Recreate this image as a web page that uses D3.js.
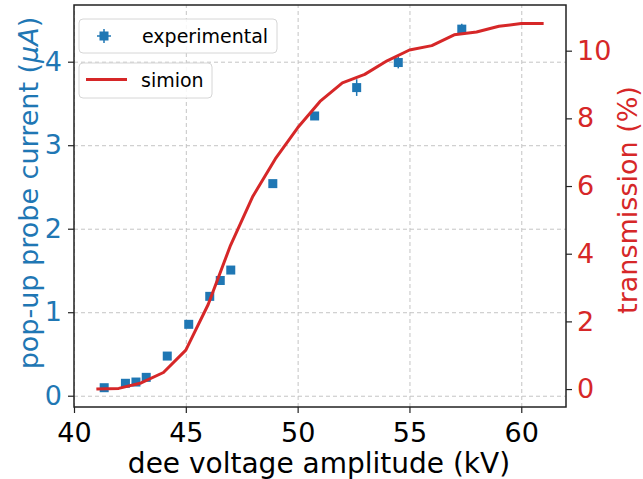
<!DOCTYPE html>
<html>
<head>
<meta charset="utf-8">
<style>
  body { margin: 0; background: #fff; }
  svg { font-family: "DejaVu Sans", sans-serif; }
  .grid line { stroke: #c4c4c4; stroke-width: 1; stroke-dasharray: 4,3; }
  .grid .domain { display: none; }
</style>
</head>
<body>
<svg width="643" height="479"></svg>
<script src="https://d3js.org/d3.v7.min.js"></script>
<script>
// experimental points
var voltage = [41.35, 42.3, 42.77, 43.23, 44.17, 45.13, 46.07, 46.54, 47.01, 48.89, 50.76, 52.64, 54.5, 57.34];
var current = [0.096, 0.149, 0.164, 0.22, 0.475, 0.855, 1.19, 1.38, 1.505, 2.54, 3.35, 3.69, 3.99, 4.39];
var currentErr = [0.02, 0.02, 0.02, 0.02, 0.03, 0.03, 0.03, 0.03, 0.03, 0.04, 0.04, 0.1, 0.07, 0.065];
var voltageErr = [0.1, 0.1, 0.1, 0.1, 0.1, 0.1, 0.1, 0.1, 0.1, 0.1, 0.1, 0.1, 0.1, 0.1];

// simion simulation
var simVoltage = [41, 42, 43, 44, 45, 46, 47, 48, 49, 50, 51, 52, 53, 54, 55, 56, 57, 58, 59, 60, 61];
var simTransmission = [0.0, 0.02, 0.18, 0.49, 1.15, 2.5, 4.25, 5.7, 6.8, 7.72, 8.5, 9.05, 9.3, 9.7, 10.02, 10.15, 10.47, 10.55, 10.72, 10.8, 10.8];

var xTicks = [40, 45, 50, 55, 60];
var leftTicks = [0, 1, 2, 3, 4];
var rightTicks = [0, 2, 4, 6, 8, 10];

var blue = "#1f77b4", red = "#d62728";

var svg = d3.select("svg"),
    margin = {top: 5, right: 77, bottom: 72, left: 74},
    width = +svg.attr("width") - margin.left - margin.right,
    height = +svg.attr("height") - margin.top - margin.bottom,
    g = svg.append("g").attr("transform", "translate(" + margin.left + "," + margin.top + ")");

var x = d3.scaleLinear().domain([40, 62]).range([0, width]);
var y = d3.scaleLinear().domain([-0.135, 4.679]).range([height, 0]);
var y2 = d3.scaleLinear().domain([-0.53, 11.35]).range([height, 0]);

// grid
g.append("g")
    .attr("class", "grid")
    .attr("transform", "translate(0," + height + ")")
    .call(d3.axisBottom(x).tickValues(xTicks).tickSize(-height).tickFormat(""));
g.append("g")
    .attr("class", "grid")
    .call(d3.axisLeft(y).tickValues(leftTicks).tickSize(-width).tickFormat(""));

// error bars
var pts = voltage.map(function(v, i) {
  return {x: v, y: current[i], ey: currentErr[i], ex: voltageErr[i]};
});

g.selectAll(".ebar")
  .data(pts)
  .enter().append("line")
    .attr("class", "ebar")
    .attr("x1", function(d) { return x(d.x); })
    .attr("x2", function(d) { return x(d.x); })
    .attr("y1", function(d) { return y(d.y - d.ey); })
    .attr("y2", function(d) { return y(d.y + d.ey); })
    .attr("stroke", blue)
    .attr("stroke-width", 1.5);

g.selectAll(".xbar")
  .data(pts)
  .enter().append("line")
    .attr("class", "xbar")
    .attr("x1", function(d) { return x(d.x - d.ex); })
    .attr("x2", function(d) { return x(d.x + d.ex); })
    .attr("y1", function(d) { return y(d.y); })
    .attr("y2", function(d) { return y(d.y); })
    .attr("stroke", blue)
    .attr("stroke-width", 1.5);

var ms = 9;
g.selectAll(".pt")
  .data(pts)
  .enter().append("rect")
    .attr("class", "pt")
    .attr("x", function(d) { return x(d.x) - ms / 2; })
    .attr("y", function(d) { return y(d.y) - ms / 2; })
    .attr("width", ms)
    .attr("height", ms)
    .attr("fill", blue);

// simion line (twin axis, drawn on top)
var sim = simVoltage.map(function(v, i) { return {x: v, y: simTransmission[i]}; });
var line = d3.line()
    .x(function(d) { return x(d.x); })
    .y(function(d) { return y2(d.y); });

g.append("path")
    .datum(sim)
    .attr("fill", "none")
    .attr("stroke", red)
    .attr("stroke-width", 3)
    .attr("stroke-linejoin", "round")
    .attr("d", line);

// axes
var fs = 27;
var ax = g.append("g")
    .attr("transform", "translate(0," + height + ")")
    .call(d3.axisBottom(x).tickValues(xTicks).tickFormat(d3.format("d")).tickSize(6).tickPadding(10).tickSizeOuter(0));
ax.selectAll("text").attr("font-size", fs).attr("fill", "#000").attr("font-family", "DejaVu Sans");

var ayl = g.append("g")
    .call(d3.axisLeft(y).tickValues(leftTicks).tickFormat(d3.format("d")).tickSize(6).tickPadding(6).tickSizeOuter(0));
ayl.selectAll("text").attr("font-size", fs).attr("fill", blue).attr("font-family", "DejaVu Sans");

var ayr = g.append("g")
    .attr("transform", "translate(" + width + ",0)")
    .call(d3.axisRight(y2).tickValues(rightTicks).tickFormat(d3.format("d")).tickSize(6).tickPadding(5).tickSizeOuter(0));
ayr.selectAll("text").attr("font-size", fs).attr("fill", red).attr("font-family", "DejaVu Sans");

[ax, ayl, ayr].forEach(function(a) {
  a.select(".domain").remove();
  a.selectAll("line").attr("stroke", "#222").attr("stroke-width", 1.2);
});

// frame
g.append("rect")
    .attr("width", width)
    .attr("height", height)
    .attr("fill", "none")
    .attr("stroke", "#222")
    .attr("stroke-width", 1.5);

// axis labels
svg.append("text")
    .attr("x", margin.left + width / 2 - 1)
    .attr("y", 473)
    .attr("text-anchor", "middle")
    .attr("font-size", 28)
    .attr("fill", "#000")
    .text("dee voltage amplitude (kV)");

var yl = svg.append("text")
    .attr("transform", "translate(38,193) rotate(-90)")
    .attr("text-anchor", "middle")
    .attr("font-size", fs)
    .attr("fill", blue);
yl.append("tspan").text("pop-up probe current (");
yl.append("tspan").attr("font-style", "italic").text("μA");
yl.append("tspan").text(")");

svg.append("text")
    .attr("transform", "translate(637,200) rotate(-90)")
    .attr("text-anchor", "middle")
    .attr("font-size", fs)
    .attr("fill", red)
    .text("transmission (%)");

// legends (two separate boxes)
var lf = 19;
var leg1 = svg.append("g");
leg1.append("rect")
    .attr("x", 79).attr("y", 19).attr("width", 198).attr("height", 34).attr("rx", 4)
    .attr("fill", "#fff").attr("fill-opacity", 0.85)
    .attr("stroke", "#d6d6d6").attr("stroke-width", 1);
leg1.append("line")
    .attr("x1", 104).attr("x2", 104).attr("y1", 29).attr("y2", 43)
    .attr("stroke", blue).attr("stroke-width", 1.5);
leg1.append("line")
    .attr("x1", 97).attr("x2", 111).attr("y1", 36).attr("y2", 36)
    .attr("stroke", blue).attr("stroke-width", 1.5);
leg1.append("rect")
    .attr("x", 104 - ms / 2).attr("y", 36 - ms / 2).attr("width", ms).attr("height", ms)
    .attr("fill", blue);
leg1.append("text")
    .attr("x", 142).attr("y", 42.5)
    .attr("font-size", lf).attr("fill", "#000")
    .text("experimental");

var leg2 = svg.append("g");
leg2.append("rect")
    .attr("x", 79).attr("y", 63).attr("width", 133).attr("height", 35).attr("rx", 4)
    .attr("fill", "#fff").attr("fill-opacity", 0.85)
    .attr("stroke", "#d6d6d6").attr("stroke-width", 1);
leg2.append("line")
    .attr("x1", 86).attr("x2", 127).attr("y1", 79.5).attr("y2", 79.5)
    .attr("stroke", red).attr("stroke-width", 3);
leg2.append("text")
    .attr("x", 141).attr("y", 86.5)
    .attr("font-size", lf).attr("fill", "#000")
    .text("simion");
</script>
</body>
</html>
